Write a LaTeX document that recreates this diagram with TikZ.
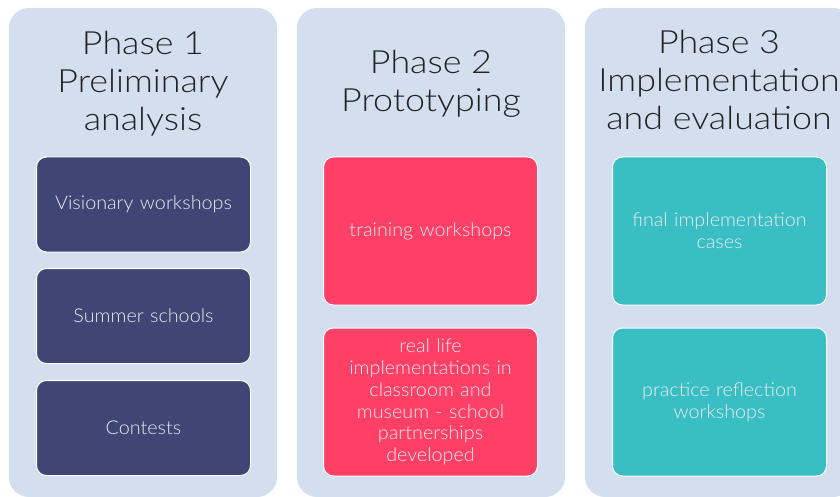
\documentclass[tikz,border=0pt]{standalone}
\usepackage{fontspec}
\setmainfont{Lato Light}[FakeStretch=1.04]
\newfontfamily\titlefont{Lato Light}[FakeStretch=1.12]
\usetikzlibrary{positioning}
\definecolor{panelBlue}{HTML}{D3DEEE}
\definecolor{phaseNavy}{HTML}{3F4675}
\definecolor{phasePink}{HTML}{FE4067}
\definecolor{phaseTeal}{HTML}{39BFC3}
\definecolor{titleGrey}{HTML}{222222}

\begin{document}
\begin{tikzpicture}[x=1pt, y=-1pt,
    panel/.style={rectangle, rounded corners=20pt, fill=panelBlue,
                  minimum width=268pt, minimum height=489pt, inner sep=0pt},
    ptitle/.style={align=center, inner sep=0pt, text=titleGrey,
                   font=\titlefont\fontsize{32}{38}\selectfont},
    pbox/.style={rectangle, rounded corners=10pt, draw=white, line width=1pt,
                 minimum width=214pt, text width=200pt, align=center,
                 inner sep=0pt, text=white!92!black,
                 font=\fontsize{19}{21.7}\selectfont},
  ]
  \useasboundingbox (0,0) rectangle (840,497);

  % phase panels
  \node[panel] (p1) at (143,252.5) {};
  \node[panel] (p2) at (431,252.5) {};
  \node[panel] (p3) at (719,252.5) {};

  % titles
  \node[ptitle] (t1) at (143,84) {Phase 1\\Preliminary\\analysis};
  \node[ptitle] (t2) at (431,84) {Phase 2\\Prototyping};
  \node[ptitle] (t3) at (719,80) {Phase 3\\Implementation\\and evaluation};

  % phase 1
  \node[pbox, fill=phaseNavy, minimum height=95pt] (a1) at (143.5,204.5)
    {Visionary workshops};
  \node[pbox, fill=phaseNavy, minimum height=95pt] (a2) at (143.5,316)
    {Summer schools};
  \node[pbox, fill=phaseNavy, minimum height=95pt] (a3) at (143.5,428)
    {Contests};

  % phase 2
  \node[pbox, fill=phasePink, minimum height=148pt] (b1) at (430.5,231)
    {training workshops};
  \node[pbox, fill=phasePink, minimum height=148pt] (b2) at (430.5,402)
    {real life\\implementations in\\classroom and\\museum - school\\partnerships\\developed};

  % phase 3
  \node[pbox, fill=phaseTeal, minimum height=148pt] (c1) at (719.5,231)
    {final implementation\\cases};
  \node[pbox, fill=phaseTeal, minimum height=148pt] (c2) at (719.5,402)
    {practice reflection\\workshops};
\end{tikzpicture}
\end{document}
